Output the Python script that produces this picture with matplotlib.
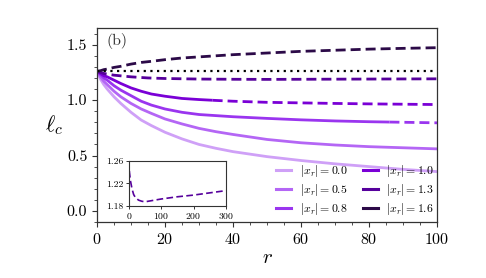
import numpy as np
import matplotlib
matplotlib.use("Agg")
import matplotlib.pyplot as plt
from matplotlib.lines import Line2D
from matplotlib.ticker import MultipleLocator

plt.rcParams["font.family"] = "cmr10"
plt.rcParams["mathtext.fontset"] = "cm"
plt.rcParams["axes.formatter.use_mathtext"] = True

# ---- data -----------------------------------------------------------------
r = [0, 1, 2, 3, 5, 7, 10, 13, 16, 20, 25, 30, 35, 40, 50, 60, 70, 80, 90, 100]
lc_00 = [1.26, 1.19, 1.14, 1.10, 1.03, 0.97, 0.89, 0.82, 0.77, 0.71, 0.65, 0.60,
         0.565, 0.535, 0.49, 0.455, 0.425, 0.40, 0.375, 0.355]
lc_05 = [1.26, 1.21, 1.17, 1.14, 1.08, 1.03, 0.97, 0.92, 0.88, 0.83, 0.785, 0.745,
         0.715, 0.69, 0.645, 0.615, 0.595, 0.58, 0.57, 0.56]
lc_08 = [1.26, 1.23, 1.20, 1.18, 1.13, 1.09, 1.04, 0.99, 0.955, 0.92, 0.89, 0.87,
         0.86, 0.85, 0.835, 0.822, 0.812, 0.805, 0.80, 0.795]
lc_10 = [1.26, 1.24, 1.22, 1.21, 1.18, 1.15, 1.11, 1.08, 1.055, 1.035, 1.015, 1.005,
         0.997, 0.99, 0.98, 0.975, 0.97, 0.966, 0.963, 0.96]
lc_16 = [1.26, 1.265, 1.275, 1.28, 1.295, 1.305, 1.325, 1.34, 1.35, 1.365, 1.38, 1.39,
         1.40, 1.41, 1.425, 1.44, 1.45, 1.46, 1.467, 1.473]

# |x_r| = 1.3 reaches further out (shown in inset up to r = 300)
r_13 = [0, 2, 5, 10, 15, 20, 30, 40, 50, 60, 80, 100, 150, 200, 250, 300]
lc_13 = [1.26, 1.24, 1.225, 1.21, 1.20, 1.195, 1.19, 1.188, 1.187, 1.188, 1.19,
         1.192, 1.196, 1.199, 1.203, 1.207]

lc_flat = 1.26          # dotted reference level
r_break_10 = 34         # solid -> dashed switch for |x_r| = 1.0
r_break_08 = 86         # solid -> dashed switch for |x_r| = 0.8

labels = ["0.0", "0.5", "0.8", "1.0", "1.3", "1.6"]
colors = ["#cfa0f7", "#b466f5", "#9a35ef", "#7a00d6", "#56009c", "#2c0a48"]

fig = plt.figure(figsize=(4.86, 2.78), dpi=100)
ax = fig.add_axes([0.1996, 0.2014, 0.6996, 0.6976])

LW = 2.0
DASH = (0, (3.6, 1.8))
ra = np.array(r)


def split_plot(y, rb, col):
    # solid up to rb, dashed beyond
    y = np.array(y)
    m1 = ra <= rb
    i = np.searchsorted(ra, rb)
    yb = np.interp(rb, ra, y)
    ax.plot(np.r_[ra[m1], rb], np.r_[y[m1], yb], color=col, lw=LW, solid_capstyle="butt")
    ax.plot(np.r_[rb, ra[i:]], np.r_[yb, y[i:]], color=col, lw=LW, ls=DASH)


ax.plot(r, lc_00, color=colors[0], lw=LW)
ax.plot(r, lc_05, color=colors[1], lw=LW)
split_plot(lc_08, r_break_08, colors[2])
split_plot(lc_10, r_break_10, colors[3])
ax.plot(r_13, lc_13, color=colors[4], lw=LW, ls=DASH)
ax.plot(r, lc_16, color=colors[5], lw=LW, ls=DASH)
ax.axhline(lc_flat, color="black", lw=1.6, ls=(0, (1, 2.0)))

ax.set_xlim(0, 100)
ax.set_ylim(-0.1, 1.65)
ax.xaxis.set_major_locator(MultipleLocator(20))
ax.xaxis.set_minor_locator(MultipleLocator(5))
ax.yaxis.set_major_locator(MultipleLocator(0.5))
ax.yaxis.set_minor_locator(MultipleLocator(0.1))
ax.yaxis.set_major_formatter(matplotlib.ticker.FormatStrFormatter("%.1f"))
ax.tick_params(which="major", length=3.5, width=0.8, labelsize=11.5, color="#333333")
ax.tick_params(which="minor", length=2, width=0.6, color="#333333")
for sp in ax.spines.values():
    sp.set_color("#333333")
    sp.set_linewidth(0.9)

ax.set_xlabel(r"$r$", fontsize=15, labelpad=2)
ax.set_ylabel(r"$\ell_c$", fontsize=16, rotation=0, labelpad=9, va="center")
ax.text(0.028, 0.975, "(b)", transform=ax.transAxes, fontsize=11.5,
        ha="left", va="top", color="#333333")

handles = [Line2D([], [], color=c, lw=2.2) for c in colors]
ax.legend(handles, [rf"$|x_r| = {l}$" for l in labels], ncol=2, loc="lower right",
          frameon=False, fontsize=8.5, handlelength=1.3, handletextpad=0.7,
          columnspacing=1.3, labelspacing=0.25, borderaxespad=0.0,
          bbox_to_anchor=(1.005, 0.0))

# ---- inset ---------------------------------------------------------------
axi = fig.add_axes([0.265, 0.26, 0.2, 0.161])
axi.plot(r_13, lc_13, color=colors[4], lw=1.2, ls=(0, (4, 2)))
axi.set_xlim(0, 300)
axi.set_ylim(1.18, 1.26)
axi.set_xticks([0, 100, 200, 300])
axi.set_yticks([1.18, 1.22, 1.26])
axi.yaxis.set_major_formatter(matplotlib.ticker.FormatStrFormatter("%.2f"))
axi.tick_params(length=2.5, width=0.7, labelsize=7, pad=1.5, color="#333333")
for sp in axi.spines.values():
    sp.set_color("#333333")
    sp.set_linewidth(0.8)

fig.savefig("out.png", dpi=100, facecolor="white")
